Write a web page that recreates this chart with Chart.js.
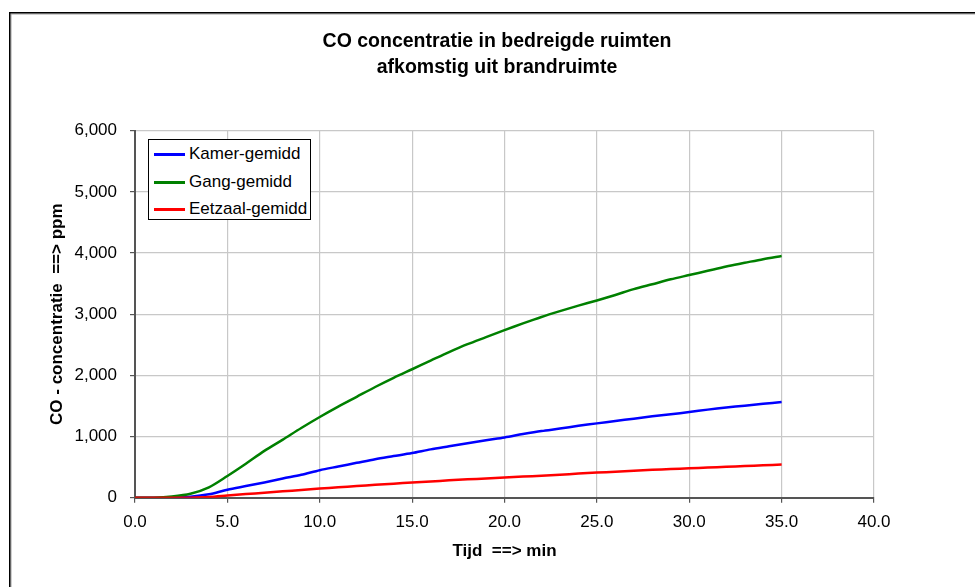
<!DOCTYPE html>
<html>
<head>
<meta charset="utf-8">
<script src="https://cdn.jsdelivr.net/npm/chart.js@4.4.0/dist/chart.umd.min.js"></script>
<style>
  body { margin: 0; background: #fff; }
  #wrap { position: relative; width: 975px; height: 587px; }
  #legend {
    position: absolute; left: 148px; top: 139px; width: 161px; height: 79px;
    border: 1px solid #000; background: #fff;
    font-family: Arial, "Liberation Sans", sans-serif; font-size: 17px; color: #000;
  }
  #legend .row { position: absolute; left: 0; height: 20px; line-height: 20px; white-space: nowrap; }
  #legend .swatch { position: absolute; left: 5px; top: 9px; width: 31px; height: 3px; }
  #legend .lbl { position: absolute; left: 40px; top: 0; }
</style>
</head>
<body>
<div id="wrap">
  <canvas id="coChart" width="975" height="587"></canvas>
  <div id="legend"></div>
</div>
<script>
// tijd in minuten
const minutes = [0, 1, 2, 3, 4, 5, 6, 7, 8, 9, 10, 11, 12, 13, 14, 15, 16, 17, 18, 19, 20,
  21, 22, 23, 24, 25, 26, 27, 28, 29, 30, 31, 32, 33, 34, 35];

// CO concentratie (ppm)
const kamer = [0, 0, 0, 15, 55, 130, 190, 250, 315, 375, 450, 510, 570, 630, 680, 730, 790, 840, 890, 940, 985,
  1040, 1090, 1130, 1175, 1215, 1255, 1290, 1330, 1365, 1400, 1440, 1475, 1505, 1535, 1565];
const gang = [0, 0, 20, 65, 170, 355, 555, 765, 950, 1140, 1320, 1490, 1650, 1810, 1960, 2100, 2240, 2380, 2510, 2625, 2740,
  2850, 2955, 3050, 3140, 3225, 3315, 3410, 3490, 3570, 3640, 3710, 3780, 3840, 3900, 3950];
const eetzaal = [0, 0, 0, 0, 10, 35, 60, 80, 105, 125, 150, 170, 190, 210, 230, 250, 265, 285, 300, 315, 330,
  345, 360, 375, 395, 410, 425, 440, 455, 468, 480, 493, 505, 518, 530, 543];

const seriesNames = ['Kamer-gemidd', 'Gang-gemidd', 'Eetzaal-gemidd'];
const seriesColors = ['#0000ff', '#008000', '#ff0000'];
const titleLines = ['CO concentratie in bedreigde ruimten', 'afkomstig uit brandruimte'];

const FONT = 'Arial, "Liberation Sans", sans-serif';

const toPoints = (vals) => vals.map((v, i) => ({ x: minutes[i], y: v }));

// outer frame (only top and left edges are visible in the picture)
const framePlugin = {
  id: 'frame',
  beforeDraw(chart) {
    const ctx = chart.ctx;
    ctx.save();
    ctx.strokeStyle = '#a0a0a0';
    ctx.lineWidth = 1;
    ctx.strokeRect(11, 14, 1000, 1000);
    ctx.strokeStyle = '#000';
    ctx.lineWidth = 1.5;
    ctx.strokeRect(9.75, 12.75, 1000, 1000);
    ctx.restore();
  }
};

const chart = new Chart(document.getElementById('coChart').getContext('2d'), {
  type: 'line',
  data: {
    datasets: [kamer, gang, eetzaal].map((vals, i) => ({
      label: seriesNames[i],
      data: toPoints(vals),
      borderColor: seriesColors[i],
      backgroundColor: seriesColors[i],
      borderWidth: 2.5,
      pointRadius: 0,
      tension: 0.3,
      fill: false
    })).reverse() // red drawn on top like the original
  },
  options: {
    responsive: false,
    animation: false,
    layout: { padding: { left: 19, right: 0, top: 0, bottom: 0 } },
    plugins: {
      legend: { display: false },
      tooltip: { enabled: false },
      title: {
        display: true,
        text: titleLines,
        color: '#000',
        font: { family: FONT, size: 19.5, weight: 'bold', lineHeight: '26px' },
        padding: { top: 29, bottom: 49.7 }
      }
    },
    scales: {
      x: {
        type: 'linear',
        min: 0, max: 40,
        afterFit(s) { s.height = 89.3; },
        ticks: {
          stepSize: 5, color: '#000', padding: 9,
          font: { family: FONT, size: 17 },
          callback: (v) => v.toFixed(1),
          maxRotation: 0
        },
        grid: { color: '#c8c8c8', lineWidth: 1.2, tickColor: '#555', tickLength: 5 },
        border: { color: '#555', width: 2 },
        title: {
          display: true, text: 'Tijd  ==> min', color: '#000',
          font: { family: FONT, size: 17, weight: 'bold' },
          padding: { top: 0, bottom: 25.8 }
        }
      },
      y: {
        min: 0, max: 6000,
        afterFit(s) { s.width = 116; },
        ticks: {
          stepSize: 1000, color: '#000', padding: 13,
          font: { family: FONT, size: 17 },
          callback: (v) => v.toLocaleString('en-US')
        },
        grid: { color: '#c8c8c8', lineWidth: 1.2, tickColor: '#555', tickLength: 5 },
        border: { color: '#555', width: 2 },
        title: {
          display: true, text: 'CO - concentratie  ==> ppm', color: '#000',
          font: { family: FONT, size: 17, weight: 'bold' },
          padding: { top: 27.8, bottom: 0 }
        }
      },
      yRight: {
        position: 'right',
        afterFit(s) { s.width = 101; },
        ticks: { display: false },
        grid: { display: false },
        border: { display: false }
      }
    }
  },
  plugins: [framePlugin]
});

// legend box, same order as original
const legendEl = document.getElementById('legend');
seriesNames.forEach((name, i) => {
  const row = document.createElement('div');
  row.className = 'row';
  row.style.top = (4 + i * 27.5) + 'px';
  row.innerHTML = '<span class="swatch" style="background:' + seriesColors[i] + '"></span><span class="lbl">' + name + '</span>';
  legendEl.appendChild(row);
});
</script>
</body>
</html>
